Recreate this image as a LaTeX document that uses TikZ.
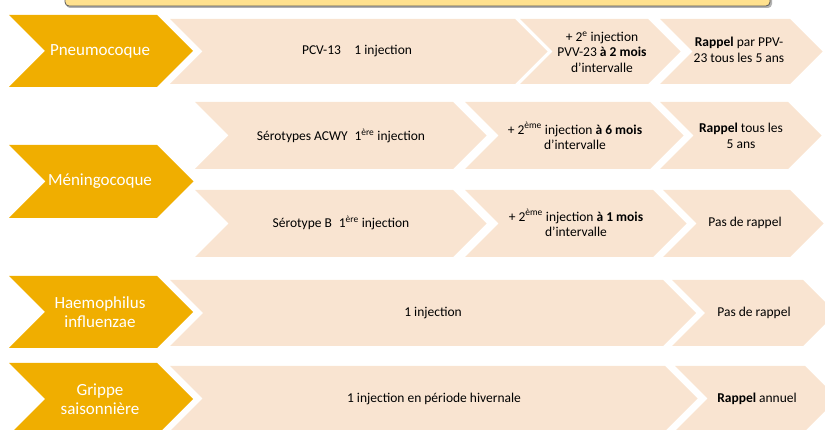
\documentclass[tikz,border=0pt]{standalone}
\usepackage{fontspec}
\setmainfont{Carlito}
\definecolor{gold}{HTML}{F0AE00}
\definecolor{peach}{HTML}{F9E4D1}
\definecolor{topyellow}{HTML}{FFE18E}
\newcommand{\chevshape}[5]{%
  \pgfmathsetmacro{\chh}{(#5-#3)/2}%
  \pgfmathsetmacro{\cmd}{(#5+#3)/2}%
  \fill[#1] (#2,#3) -- (#4,#3) -- ({#4+\chh},\cmd) -- (#4,#5) -- (#2,#5) -- ({#2+\chh},\cmd) -- cycle;}
\begin{document}
\begin{tikzpicture}[x=1pt,y=-1pt,
  darklbl/.style={text=white,font=\fontsize{17}{18.5}\selectfont,align=center,inner sep=0pt},
  lightlbl/.style={text=black,font=\fontsize{13.5}{15.5}\selectfont,align=center,inner sep=0pt}]
\useasboundingbox (0,0) rectangle (825,430);
\clip (0,0) rectangle (825,430);
% top box (partially visible)
\fill[gray!60, rounded corners=4pt] (66,-20) rectangle (772,8);
\draw[fill=topyellow, draw=gray!70!black, line width=0.8pt, rounded corners=4pt] (65,-20) rectangle (770,6);
% row 1
\chevshape{gold}{9}{15}{157}{87}
\chevshape{peach}{170}{19}{515}{84}
\chevshape{peach}{520}{19}{648}{84}
\chevshape{peach}{660}{19}{790}{84}
% row 2
\chevshape{gold}{9}{145}{157}{218}
\chevshape{peach}{195}{102}{453}{169}
\chevshape{peach}{465}{102}{650}{169}
\chevshape{peach}{660}{102}{788}{169}
\chevshape{peach}{195}{190}{453}{257}
\chevshape{peach}{465}{190}{653}{257}
\chevshape{peach}{663}{190}{790}{257}
% row 3
\chevshape{gold}{9}{276}{157}{348}
\chevshape{peach}{170}{280}{663}{346}
\chevshape{peach}{672}{280}{803}{346}
% row 4
\chevshape{gold}{9}{363}{157}{435}
\chevshape{peach}{170}{366}{665}{431}
\chevshape{peach}{675}{366}{805}{431}
% dark labels
\node[darklbl] (pneu) at (100,51) {Pneumocoque};
\node[darklbl] (meni) at (100,181.5) {Méningocoque};
\node[darklbl] (haem) at (100,312) {Haemophilus\\influenzae};
\node[darklbl] (grip) at (100,399) {Grippe\\saisonnière};
% light labels
\node[lightlbl] (p1) at (357,51) {PCV-13\quad 1 injection};
\node[lightlbl] (p2) at (602,52) {+ 2\textsuperscript{e} injection\\PVV-23 \textbf{à 2 mois}\\d’intervalle};
\node[lightlbl] (p3) at (739,50) {\textbf{Rappel} par PPV-\\23 tous les 5 ans};
\node[lightlbl] (m1) at (341,136) {Sérotypes ACWY\enspace 1\textsuperscript{ère} injection};
\node[lightlbl] (m2) at (575,136) {+ 2\textsuperscript{ème} injection \textbf{à 6 mois}\\d’intervalle};
\node[lightlbl] (m3) at (741,136) {\textbf{Rappel} tous les\\5 ans};
\node[lightlbl] (m4) at (341,223) {Sérotype B\enspace 1\textsuperscript{ère} injection};
\node[lightlbl] (m5) at (576,223) {+ 2\textsuperscript{ème} injection \textbf{à 1 mois}\\d’intervalle};
\node[lightlbl] (m6) at (745,223) {Pas de rappel};
\node[lightlbl] (h1) at (433,313) {1 injection};
\node[lightlbl] (h2) at (754,313) {Pas de rappel};
\node[lightlbl] (g1) at (434,399) {1 injection en période hivernale};
\node[lightlbl] (g2) at (757,399) {\textbf{Rappel} annuel};
\end{tikzpicture}
\end{document}
